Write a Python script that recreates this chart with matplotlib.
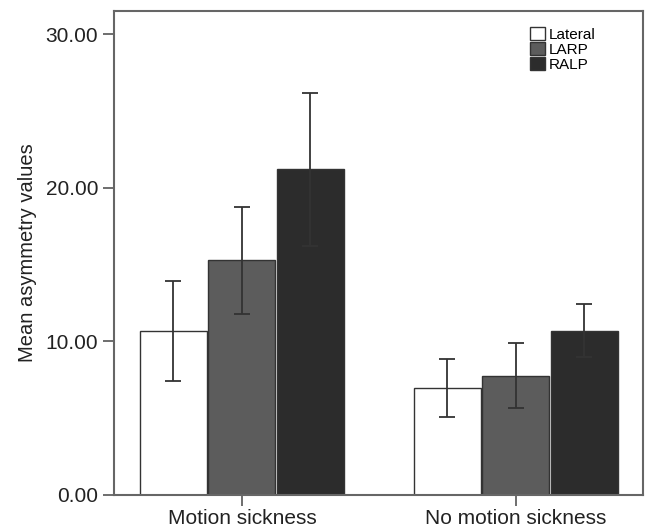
import numpy as np
import matplotlib.pyplot as plt
from matplotlib.ticker import FormatStrFormatter

plt.rcParams['font.family'] = ['Liberation Sans', 'DejaVu Sans']

groups = ['Motion sickness', 'No motion sickness']
series = ['Lateral', 'LARP', 'RALP']
means = {
    'Lateral': [10.7, 6.95],
    'LARP': [15.3, 7.75],
    'RALP': [21.2, 10.7],
}
err_low = {
    'Lateral': [7.45, 5.05],
    'LARP': [11.8, 5.65],
    'RALP': [16.2, 8.95],
}
err_high = {
    'Lateral': [13.95, 8.85],
    'LARP': [18.75, 9.9],
    'RALP': [26.15, 12.4],
}
colors = ['#ffffff', '#5c5c5c', '#2c2c2c']

fig = plt.figure(figsize=(6.46, 5.27), dpi=100)
ax = fig.add_axes([114/646, 1 - 495/527, (643-114)/646, (495-11)/527])

x = np.arange(len(groups))
w = 0.245
for i, s in enumerate(series):
    pos = x + (i - 1) * 0.25
    m = np.array(means[s])
    lo = m - np.array(err_low[s])
    hi = np.array(err_high[s]) - m
    ax.bar(pos, m, width=w, color=colors[i], edgecolor='#333333',
           linewidth=1.0, label=s, zorder=2)
    ax.errorbar(pos, m, yerr=[lo, hi], fmt='none', ecolor='#333333',
                elinewidth=1.3, capsize=6, capthick=1.3, zorder=3)

ax.set_xlim(-0.467, 1.464)
ax.set_ylim(0, 31.5)
ax.set_yticks([0, 10, 20, 30])
ax.yaxis.set_major_formatter(FormatStrFormatter('%.2f'))
ax.set_xticks(x)
ax.set_xticklabels(groups)
ax.tick_params(labelsize=15, length=8, width=1.2, color='#555555',
               labelcolor='#222222')
ax.tick_params(axis='x', pad=2)
for sp in ax.spines.values():
    sp.set_color('#666666')
    sp.set_linewidth(1.5)
ax.set_ylabel('Mean asymmetry values', fontsize=14.5, color='#222222', labelpad=6)

leg = ax.legend(loc='upper right', bbox_to_anchor=(0.93, 0.99), frameon=False,
                fontsize=11, handlelength=1.0, handleheight=1.0,
                handletextpad=0.2, labelspacing=0.0, borderpad=0.2)

fig.savefig('out.png', dpi=100)
